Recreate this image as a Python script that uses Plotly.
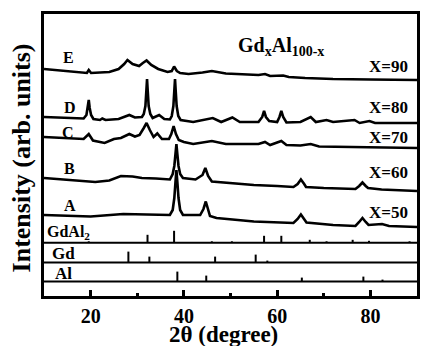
import plotly.graph_objects as go

# ---- XRD patterns (2theta in degrees, stacked intensity in arb. units) ----
E_x = [10, 14, 18, 19.2, 19.6, 20.1, 24, 26, 27.2, 27.9, 29, 30.4, 31.2, 32.0, 33, 34.5, 36.5, 37.4, 37.9, 38.5, 39.2, 41, 44, 46, 49, 53, 56, 57.4, 58.5, 61.3, 62.5, 66, 72, 80, 90]
E_y = [227, 225, 223, 223, 226, 223, 224, 227, 232, 236, 232, 230, 233, 235.5, 231, 227, 224, 225, 229.5, 225, 223, 222, 223.5, 225, 222.5, 221.5, 221, 222, 220, 220.5, 219, 218, 217, 216.5, 216]

D_x = [10, 15, 18.5, 19.1, 19.4, 19.6, 19.8, 20.1, 20.6, 22, 22.5, 23.2, 26, 28.3, 29.5, 31, 31.4, 31.75, 31.95, 32.1, 32.25, 32.45, 32.8, 33.3, 34.7, 35.8, 37, 37.4, 37.75, 37.95, 38.1, 38.25, 38.45, 38.8, 39.3, 42, 46.2, 48, 50.4, 52, 56, 56.8, 57.2, 57.6, 58.3, 60, 60.5, 60.9, 61.3, 62, 65, 67.2, 68.3, 70.6, 72, 76.6, 77.7, 79.8, 81, 90]
D_y = [179, 178, 177.5, 181, 188, 196, 188, 181, 177, 176, 177.5, 176, 177, 181, 178.5, 179, 182, 190, 205, 217, 205, 190, 182, 178, 181, 177, 176.5, 180, 190, 205, 217, 205, 190, 180, 176, 174, 178, 174, 178.5, 174, 174, 179, 185, 179, 175, 174, 179, 185, 179, 173.5, 174, 179, 174, 176, 174, 176, 173, 175, 173, 173]

C_x = [10, 15, 18.5, 19.6, 20.5, 23, 25, 26.5, 28.3, 29.5, 30.5, 31.4, 32.0, 32.7, 33.5, 34.3, 35.3, 36.8, 37.3, 37.8, 38.3, 38.9, 40, 42, 46, 49, 56, 57.4, 58.5, 60.9, 62, 65, 67.2, 69, 75, 90]
C_y = [159, 158, 157, 162, 155.5, 153, 157, 158, 162, 159.5, 161, 168, 173, 166, 159, 162.5, 157, 157, 162, 170, 162, 156, 154, 152, 155, 152, 152, 154, 151, 155, 151, 150.5, 152, 149.5, 149, 148]

B_x = [10, 16, 21, 24, 26.5, 29, 31, 34, 37, 37.6, 37.95, 38.2, 38.4, 38.6, 38.85, 39.2, 39.8, 42.5, 44.0, 44.6, 45.2, 46, 50, 55, 60, 63.5, 64.4, 65.1, 65.8, 66.2, 70, 76.8, 77.6, 78.3, 79.0, 79.5, 82.4, 90]
B_y = [118, 116, 114, 115.5, 120, 119.5, 118, 117.5, 116.5, 122, 130, 142, 152, 142, 130, 122, 118, 116.5, 121, 128, 120, 114.5, 113, 111, 110, 109, 112, 116.5, 112, 109, 108, 107, 110, 113.5, 110, 108, 106.5, 105]

A_x = [10, 20, 27, 33, 37, 37.6, 37.95, 38.2, 38.4, 38.6, 38.85, 39.2, 39.8, 43.5, 44.2, 44.7, 45.2, 45.6, 47, 55, 63.5, 64.4, 65.1, 65.8, 66.3, 72, 76.8, 77.6, 78.3, 79.0, 79.6, 82.5, 84, 90]
A_y = [81, 79.5, 82, 81, 81, 86, 98, 114, 126, 114, 98, 86, 81, 81, 87, 94.5, 87, 80, 78, 74.5, 73, 77, 81.5, 77, 73.5, 71, 70, 74, 78, 74, 71, 72, 70, 69]

patterns = [("E", E_x, E_y), ("D", D_x, D_y), ("C", C_x, C_y), ("B", B_x, B_y), ("A", A_x, A_y)]

# ---- reference stick patterns (position, relative height) ----
GdAl2_pos = [19.6, 32.2, 37.9, 46.0, 50.3, 57.2, 60.9, 67.0, 70.6, 76.2, 79.7, 88.4]
GdAl2_h = [1.5, 8, 12, 1.5, 1.5, 7, 7, 3, 1.5, 3, 2, 1.5]
Gd_pos = [28.1, 32.6, 46.7, 55.4, 57.9]
Gd_h = [11, 6, 6, 8, 2]
Al_pos = [38.6, 44.8, 65.3, 78.5, 82.6]
Al_h = [10, 6, 4, 5, 2]
stick_sets = [("GdAl2", GdAl2_pos, GdAl2_h, 53.2), ("Gd", Gd_pos, Gd_h, 33.4), ("Al", Al_pos, Al_h, 14.4)]

pattern_labels = ["E", "D", "C", "B", "A"]
label_x = [15.3, 15.5, 15.1, 15.5, 15.5]
label_y = [239, 189, 164, 128, 91]
comp_labels = ["X=90", "X=80", "X=70", "X=60", "X=50"]
comp_y = [230, 189, 159, 124, 84]

FONT = "Liberation Serif, Times New Roman, serif"

fig = go.Figure()
for name, xs, ys in patterns:
    fig.add_trace(go.Scatter(x=xs, y=ys, mode="lines", line=dict(color="black", width=2.6),
                             showlegend=False, hoverinfo="skip"))

for name, pos, h, base in stick_sets:
    sx, sy = [], []
    for p, hh in zip(pos, h):
        sx += [p, p, None]
        sy += [base, base + hh, None]
    fig.add_trace(go.Scatter(x=sx, y=sy, mode="lines", line=dict(color="black", width=2),
                             showlegend=False, hoverinfo="skip"))
    fig.add_shape(type="line", xref="paper", x0=0, x1=1, y0=base, y1=base,
                  line=dict(color="black", width=2))

ann = []
for t, xx, yy in zip(pattern_labels, label_x, label_y):
    ann.append(dict(x=xx, y=yy, text="<b>%s</b>" % t, showarrow=False,
                    font=dict(size=16, family=FONT, color="black")))
for t, yy in zip(comp_labels, comp_y):
    ann.append(dict(x=88.6, y=yy, text="<b>%s</b>" % t, showarrow=False, xanchor="right",
                    font=dict(size=17, family=FONT, color="black")))
ann.append(dict(x=51.1, y=250, text="<b>Gd<sub>x</sub>Al<sub>100-x</sub></b>", showarrow=False,
                xanchor="left", font=dict(size=20, family=FONT, color="black")))
ann.append(dict(x=10.3, y=64, text="<b>GdAl<sub>2</sub></b>", showarrow=False, xanchor="left",
                font=dict(size=16, family=FONT, color="black")))
ann.append(dict(x=11.2, y=43, text="<b>Gd</b>", showarrow=False, xanchor="left",
                font=dict(size=17, family=FONT, color="black")))
ann.append(dict(x=11.9, y=23, text="<b>Al</b>", showarrow=False, xanchor="left",
                font=dict(size=17, family=FONT, color="black")))
ann.append(dict(xref="paper", yref="paper", x=-0.06, y=0.49, xanchor="center", yanchor="middle",
                text="<b>Intensity (arb. units)</b>",
                textangle=-90, showarrow=False, font=dict(size=26, family=FONT, color="black")))
ann.append(dict(xref="paper", yref="paper", x=0.48, y=-0.135, xanchor="center", yanchor="middle",
                text="<b>2θ (degree)</b>", showarrow=False,
                font=dict(size=23, family=FONT, color="black")))

fig.update_layout(
    width=421, height=346,
    margin=dict(l=44, r=1, t=14, b=50),
    paper_bgcolor="white", plot_bgcolor="white",
    annotations=ann,
    xaxis=dict(range=[10, 90], tickvals=[20, 40, 60, 80], ticktext=["<b>20</b>", "<b>40</b>", "<b>60</b>", "<b>80</b>"],
               ticks="inside", ticklen=6, tickwidth=2.5, tickcolor="black",
               minor=dict(tickvals=[30, 50, 70], ticks="inside", ticklen=3, tickwidth=2.5, tickcolor="black"),
               showline=True, mirror=True, linewidth=3, linecolor="black",
               showgrid=False, zeroline=False,
               tickfont=dict(size=20, family=FONT, color="black")),
    yaxis=dict(range=[0, 282], showticklabels=False, ticks="", showline=True, mirror=True,
               linewidth=3, linecolor="black", showgrid=False, zeroline=False),
)

fig.write_html("out.html", config={"displayModeBar": False},
               post_script="document.body.style.margin='0';document.body.style.overflow='hidden';")
